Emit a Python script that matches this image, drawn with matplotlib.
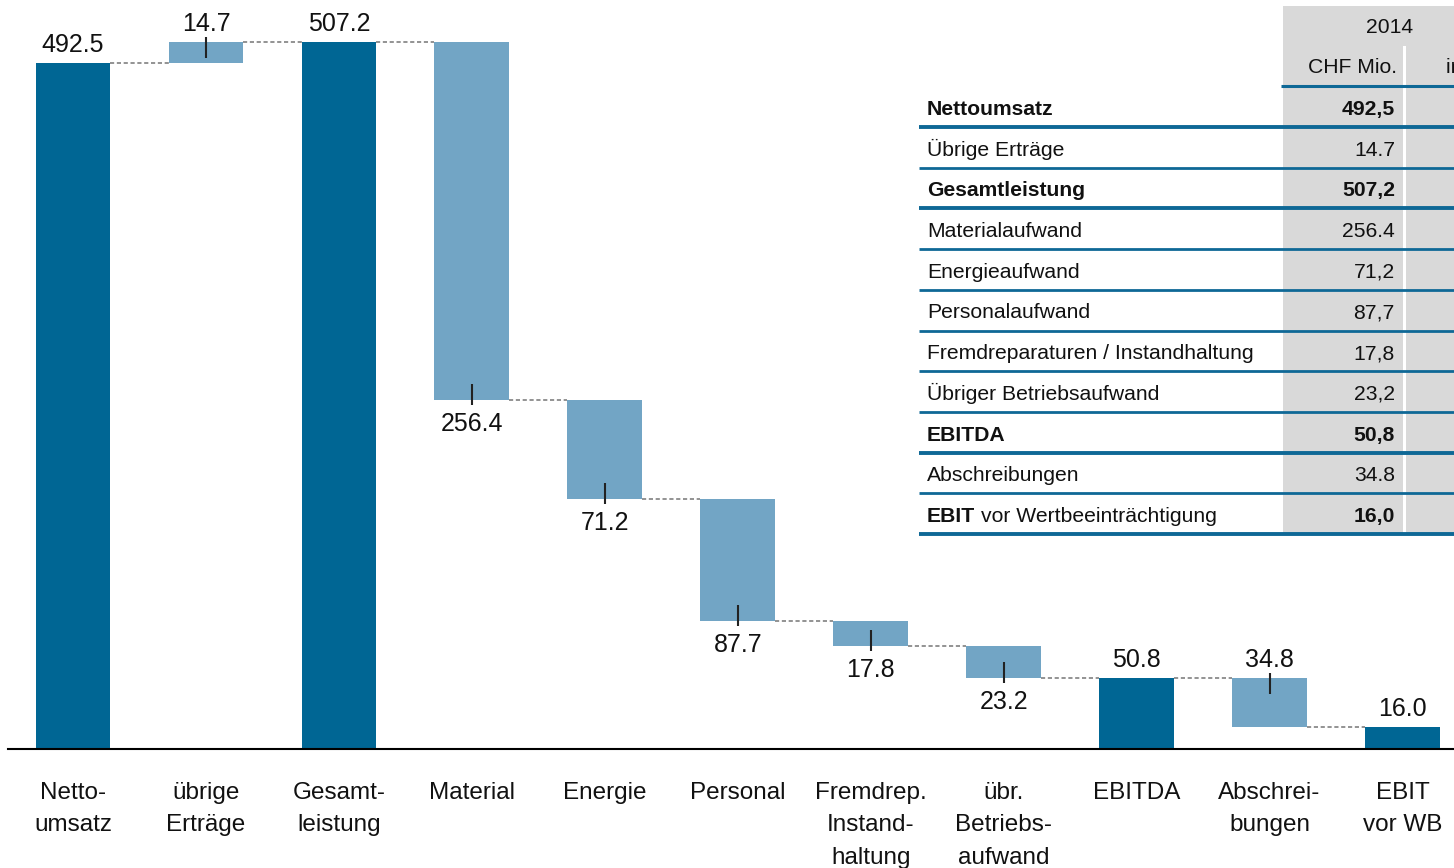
import matplotlib
matplotlib.use("Agg")
import matplotlib.pyplot as plt
from matplotlib.patches import Rectangle
from matplotlib.lines import Line2D
from matplotlib.text import Annotation

plt.rcParams['font.family'] = ['Liberation Sans', 'DejaVu Sans']

# ---------------- data ----------------
categories = ["Netto-\numsatz", "übrige\nErträge", "Gesamt-\nleistung", "Material",
              "Energie", "Personal", "Fremdrep.\nInstand-\nhaltung",
              "übr.\nBetriebs-\naufwand", "EBITDA", "Abschrei-\nbungen", "EBIT\nvor WB"]
values = [492.5, 14.7, 507.2, -256.4, -71.2, -87.7, -17.8, -23.2, 50.8, -34.8, 16.0]
is_total = [True, False, True, False, False, False, False, False, True, False, True]
label_above = [True, True, True, False, False, False, False, False, True, True, True]
bar_labels = ["492.5", "14.7", "507.2", "256.4", "71.2", "87.7", "17.8", "23.2",
              "50.8", "34.8", "16.0"]

table_year = "2014"
table_units = ["CHF Mio.", "in %"]
table_rows = ["Nettoumsatz", "Übrige Erträge", "Gesamtleistung", "Materialaufwand",
              "Energieaufwand", "Personalaufwand", "Fremdreparaturen / Instandhaltung",
              "Übriger Betriebsaufwand", "EBITDA", "Abschreibungen",
              "EBIT vor Wertbeeinträchtigung"]
table_values = ["492,5", "14.7", "507,2", "256.4", "71,2", "87,7", "17,8", "23,2",
                "50,8", "34.8", "16,0"]
table_bold = [True, False, True, False, False, False, False, False, True, False, True]

# ---------------- style ----------------
DARK = "#006694"
LIGHT = "#72A5C5"
LINE_BLUE = "#0E6896"
GRAY = "#D9D9D9"

W, H = 1454, 868
fig = plt.figure(figsize=(W / 100, H / 100), dpi=100)

def fx(px):
    return px / W

def fy(py):
    return 1 - py / H

base_px = 749
px_per_unit = 1.393
ymax = base_px / px_per_unit
x0, pitch = 73.0, 132.95
xmin = (8 - x0) / pitch
xmax = (W - x0) / pitch

ax = fig.add_axes([fx(8), fy(base_px), fx(W - 8), base_px / H])
ax.set_facecolor('none')
ax.set_xlim(xmin, xmax)
ax.set_ylim(0, ymax)
for s in ['top', 'right', 'left']:
    ax.spines[s].set_visible(False)
ax.spines['bottom'].set_linewidth(1.5)
ax.spines['bottom'].set_color('black')
ax.set_yticks([])

bw = 0.562
u = 1.0 / px_per_unit  # data units per pixel

level = 0.0
ends = []
for i, v in enumerate(values):
    if is_total[i]:
        bottom, height = 0.0, v
        level = v
        color = DARK
    else:
        bottom, height = level, v
        level = level + v
        color = LIGHT
    ax.bar(i, height, bottom=bottom, width=bw, color=color, zorder=2, linewidth=0)
    top = max(bottom, bottom + height)
    low = min(bottom, bottom + height)
    ends.append(level)
    if label_above[i]:
        ax.annotate(bar_labels[i], xy=(i, top), xytext=(0, 8), textcoords='offset points',
                    ha='center', va='baseline', fontsize=18, color='#111111')
        if not is_total[i]:
            ax.plot([i, i], [top + 5 * u, top - 16 * u], color='#222222', lw=1.5,
                    zorder=3, solid_capstyle='butt')
    else:
        ax.annotate(bar_labels[i], xy=(i, low), xytext=(0, -22.3), textcoords='offset points',
                    ha='center', va='baseline', fontsize=18, color='#111111')
        if not is_total[i]:
            ax.plot([i, i], [low - 5 * u, low + 16 * u], color='#222222', lw=1.5,
                    zorder=3, solid_capstyle='butt')

for i in range(len(values) - 1):
    ax.plot([i + bw / 2, i + 1 - bw / 2], [ends[i], ends[i]], color='#808080', lw=1.2,
            dashes=(2.5, 1.6), zorder=1)

ax.set_xticks(range(len(categories)))
ax.set_xticklabels(categories, fontsize=17.5, linespacing=1.63, color='#111111')
ax.tick_params(axis='x', length=0, pad=23.5)

# ---------------- table ----------------
def frect(x1, y1, x2, y2, color):
    fig.patches.append(Rectangle((fx(x1), fy(y2)), fx(x2) - fx(x1), fy(y1) - fy(y2),
                                 transform=fig.transFigure, facecolor=color,
                                 edgecolor='none', zorder=1))

def fline(x1, x2, y, lw):
    fig.lines.append(Line2D([fx(x1), fx(x2)], [fy(y), fy(y)], transform=fig.transFigure,
                            color=LINE_BLUE, lw=lw, zorder=2, solid_capstyle='butt'))

row_pitch = 40.7
first_base = 115.0
table_bottom = 127 + row_pitch * (len(table_rows) - 1)

frect(1283, 6, W, 46, GRAY)
frect(1283, 46, 1402.5, table_bottom, GRAY)
frect(1405.5, 46, W, table_bottom, GRAY)

fline(1281, W, 86, 2.2)
TFS = 15.2
fig.text(fx(1390), fy(33), table_year, ha='center', va='baseline', fontsize=TFS,
         color='#111111')
fig.text(fx(1397), fy(73), table_units[0], ha='right', va='baseline', fontsize=TFS,
         color='#111111')
fig.text(fx(1446), fy(73), table_units[1], ha='left', va='baseline', fontsize=TFS,
         color='#111111')

for i, (lab, val, b) in enumerate(zip(table_rows, table_values, table_bold)):
    yb = first_base + row_pitch * i
    wt = 'bold' if b else 'normal'
    if lab.startswith("EBIT "):
        head, rest = lab.split(" ", 1)
        t = fig.text(fx(927), fy(yb), head, ha='left', va='baseline', fontsize=TFS,
                     fontweight='bold', color='#111111')
        ann = Annotation(rest, xy=(1, 0), xycoords=t, xytext=(4.3, 0),
                         textcoords='offset points', ha='left', va='bottom',
                         fontsize=TFS, color='#111111')
        fig.add_artist(ann)
    else:
        fig.text(fx(927), fy(yb), lab, ha='left', va='baseline', fontsize=TFS,
                 fontweight=wt, color='#111111')
    fig.text(fx(1395), fy(yb), val, ha='right', va='baseline', fontsize=TFS,
             fontweight=wt, color='#111111')
    fline(919, W, 127 + row_pitch * i, 2.8 if b else 2.0)

fig.savefig("out.png", dpi=100)
